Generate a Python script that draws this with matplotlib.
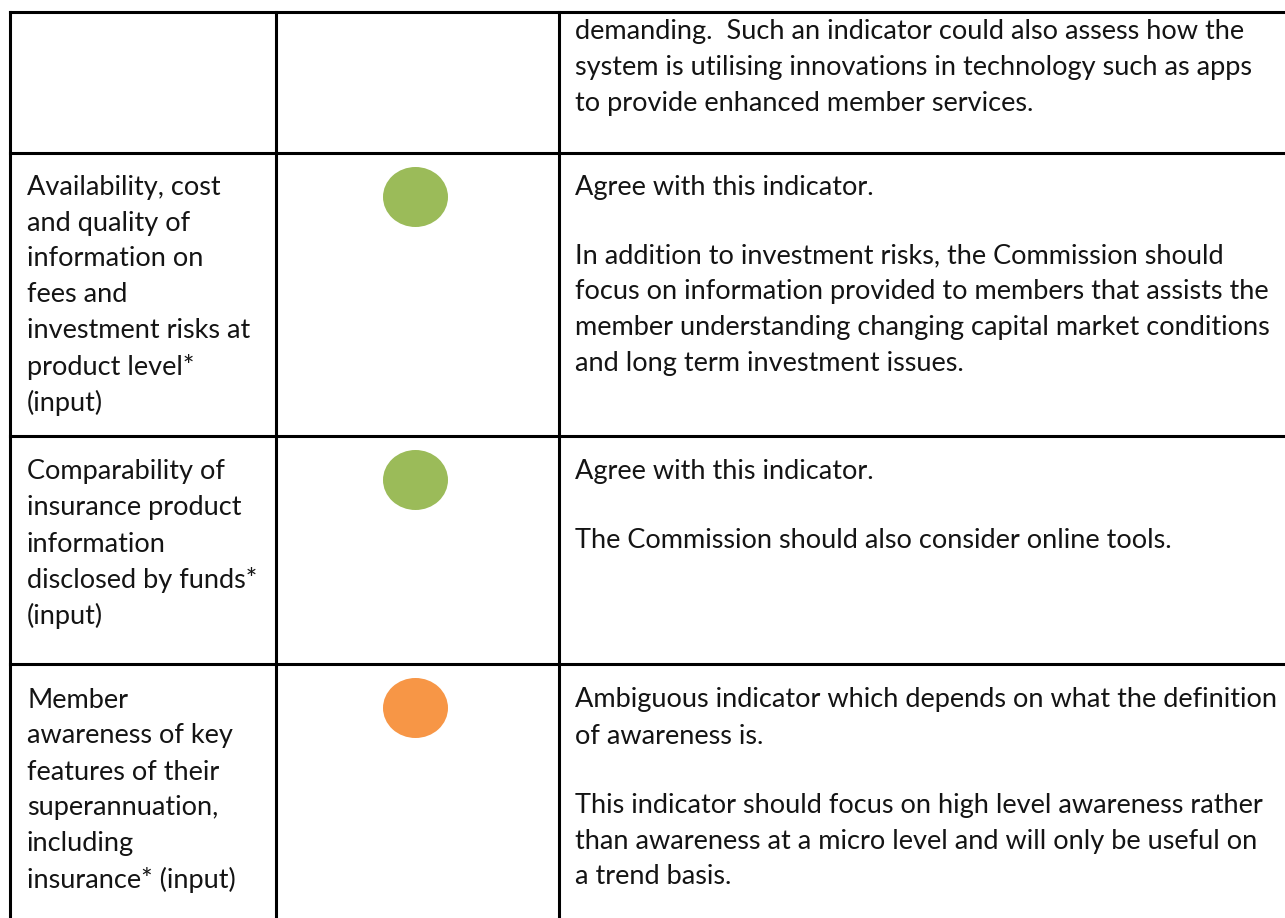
import matplotlib
matplotlib.use("Agg")
import matplotlib.pyplot as plt
from matplotlib.patches import Ellipse

# ---- data ----
indicators = [
    [],
    ["Availability, cost", "and quality of", "information on", "fees and",
     "investment risks at", "product level*", "(input)"],
    ["Comparability of", "insurance product", "information",
     "disclosed by funds*", "(input)"],
    ["Member", "awareness of key", "features of their", "superannuation,",
     "including", "insurance* (input)"],
]
ratings = [None, "agree", "agree", "partial"]
comments = [
    [["demanding.  Such an indicator could also assess how the",
      "system is utilising innovations in technology such as apps",
      "to provide enhanced member services."]],
    [["Agree with this indicator."],
     ["In addition to investment risks, the Commission should",
      "focus on information provided to members that assists the",
      "member understanding changing capital market conditions",
      "and long term investment issues."]],
    [["Agree with this indicator."],
     ["The Commission should also consider online tools."]],
    [["Ambiguous indicator which depends on what the definition",
      "of awareness is."],
     ["This indicator should focus on high level awareness rather",
      "than awareness at a micro level and will only be useful on",
      "a trend basis."]],
]
rating_colors = {"agree": "#9BBB59", "partial": "#F79646"}

# ---- layout (pixels) ----
W, H = 1285, 918
row_edges = [12, 153, 436, 664, 930]
col_edges = [10, 276, 559, 1290]
first_line = [32, 187, 472, 700]
line_h = 36
para_gap = 33
text_color = "#141414"
fs = 19.5
font = ["Lato", "DejaVu Sans"]

fig = plt.figure(figsize=(W / 100, H / 100), dpi=100)
ax = fig.add_axes([0, 0, 1, 1])
ax.set_xlim(0, W)
ax.set_ylim(H, 0)
ax.axis("off")

lw = 2.2
for y in row_edges:
    ax.plot([col_edges[0], col_edges[-1]], [y, y], color="black", lw=lw,
            solid_capstyle="projecting")
for x in col_edges:
    ax.plot([x, x], [row_edges[0], row_edges[-1]], color="black", lw=lw,
            solid_capstyle="projecting")

for i in range(len(indicators)):
    y0 = first_line[i]
    for k, line in enumerate(indicators[i]):
        ax.text(col_edges[0] + 17, y0 + k * line_h, line, fontsize=fs,
                family=font, color=text_color, va="center", ha="left")
    y = y0
    for para in comments[i]:
        for line in para:
            ax.text(col_edges[2] + 16, y, line, fontsize=fs, family=font,
                    color=text_color, va="center", ha="left")
            y += line_h
        y += para_gap
    if ratings[i] is not None:
        cx = (col_edges[1] + col_edges[2]) / 2 - 2
        cy = row_edges[i] + 44
        ax.add_patch(Ellipse((cx, cy), 65, 60, facecolor=rating_colors[ratings[i]],
                             edgecolor="none"))

fig.savefig("out.png", dpi=100)
